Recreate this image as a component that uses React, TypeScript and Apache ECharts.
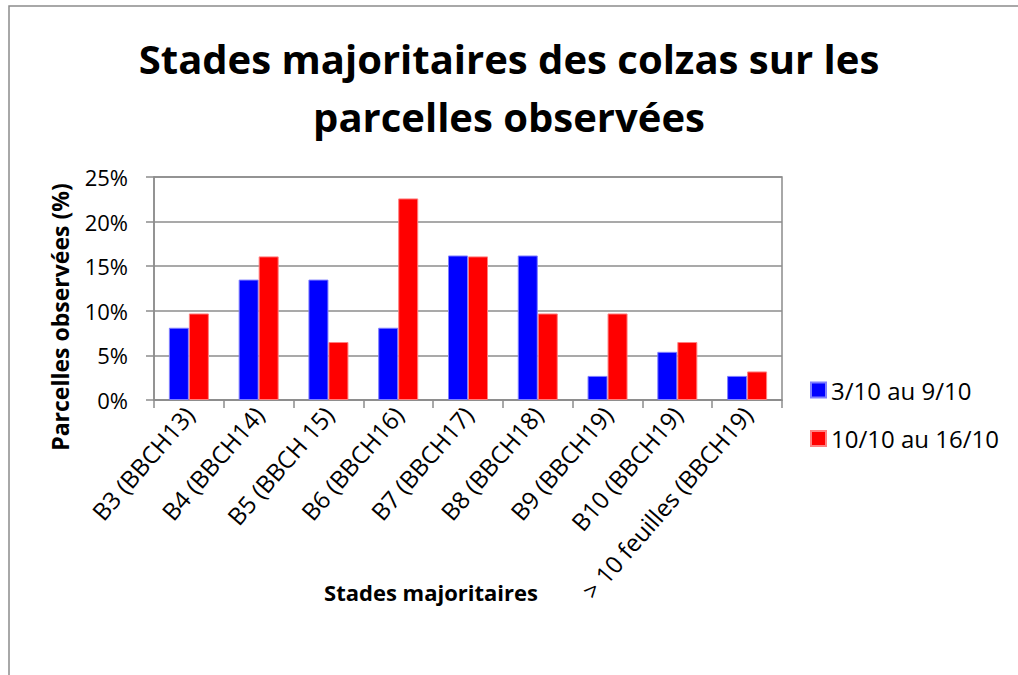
import React, { useEffect, useRef } from "react";
import * as echarts from "echarts";

const categories = [
  "B3 (BBCH13)",
  "B4 (BBCH14)",
  "B5 (BBCH 15)",
  "B6 (BBCH16)",
  "B7 (BBCH17)",
  "B8 (BBCH18)",
  "B9 (BBCH19)",
  "B10 (BBCH19)",
  "> 10 feuilles (BBCH19)",
];
const seriesNames = ["3/10 au 9/10", "10/10 au 16/10"];
const week1 = [8.1, 13.5, 13.5, 8.1, 16.2, 16.2, 2.7, 5.4, 2.7];
const week2 = [9.7, 16.1, 6.5, 22.6, 16.1, 9.7, 9.7, 6.5, 3.2];
const titleLines = ["Stades majoritaires des colzas sur les", "parcelles observées"];
const xAxisTitle = "Stades majoritaires";
const yAxisTitle = "Parcelles observées (%)";

const FONT = "'Open Sans', 'Liberation Sans', sans-serif";

export default function App() {
  const ref = useRef<HTMLDivElement>(null);
  useEffect(() => {
    if (!ref.current) return;
    const chart = echarts.init(ref.current, undefined, { renderer: "svg" });
    chart.setOption({
      animation: false,
      backgroundColor: "#ffffff",
      title: {
        text: titleLines.join("\n"),
        left: "center",
        top: 24,
        textStyle: {
          fontFamily: FONT,
          fontSize: 40,
          fontWeight: "bold",
          color: "#000",
          lineHeight: 58,
        },
      },
      legend: {
        orient: "vertical",
        left: 805,
        top: 373,
        itemWidth: 15,
        itemHeight: 15,
        itemGap: 24.5,
        icon: "rect",
        textStyle: { fontFamily: FONT, fontSize: 24, color: "#000" },
        data: seriesNames,
      },
      grid: {
        left: 154,
        right: 236,
        top: 177,
        bottom: 275,
        show: true,
        borderColor: "#8c8c8c",
        borderWidth: 1.5,
        containLabel: false,
      },
      xAxis: {
        type: "category",
        data: categories,
        axisLine: { lineStyle: { color: "#8c8c8c", width: 1.5 } },
        axisTick: { show: true, length: 8, lineStyle: { color: "#8c8c8c", width: 1.5 } },
        axisLabel: {
          rotate: 49,
          margin: 10,
          interval: 0,
          fontFamily: FONT,
          fontSize: 24,
          color: "#000",
        },
      },
      yAxis: {
        type: "value",
        min: 0,
        max: 25,
        interval: 5,
        axisLine: { show: true, lineStyle: { color: "#8c8c8c", width: 1.5 } },
        axisTick: { show: true, length: 8, lineStyle: { color: "#8c8c8c", width: 1.5 } },
        splitLine: { lineStyle: { color: "#8c8c8c", width: 1.5 } },
        axisLabel: {
          formatter: "{value}%",
          margin: 26,
          fontFamily: FONT,
          fontSize: 22,
          color: "#000",
        },
      },
      series: [
        {
          name: seriesNames[0],
          type: "bar",
          data: week1,
          barWidth: 20,
          barGap: "0%",
          itemStyle: { color: "#0000ff", borderColor: "#7f7fff", borderWidth: 1 },
        },
        {
          name: seriesNames[1],
          type: "bar",
          data: week2,
          barWidth: 20,
          barGap: "0%",
          itemStyle: { color: "#ff0000", borderColor: "#ff8080", borderWidth: 1 },
        },
      ],
      graphic: [
        {
          type: "rect",
          shape: { x: 9, y: 6, width: 1100, height: 800 },
          style: { fill: "none", stroke: "#8c8c8c", lineWidth: 1.5 },
          silent: true,
          z: -1,
        },
        {
          type: "text",
          x: 431,
          y: 592,
          style: {
            text: xAxisTitle,
            fontFamily: FONT,
            fontSize: 22,
            fontWeight: "bold",
            fill: "#000",
            align: "center",
            verticalAlign: "middle",
          },
        },
        {
          type: "text",
          x: 60,
          y: 317,
          rotation: Math.PI / 2,
          style: {
            text: yAxisTitle,
            fontFamily: FONT,
            fontSize: 23,
            fontWeight: "bold",
            fill: "#000",
            align: "center",
            verticalAlign: "middle",
          },
        },
      ],
    });
    return () => chart.dispose();
  }, []);
  return (
    <div
      ref={ref}
      style={{ position: "absolute", left: 0, top: 0, width: 1018, height: 675 }}
    />
  );
}
